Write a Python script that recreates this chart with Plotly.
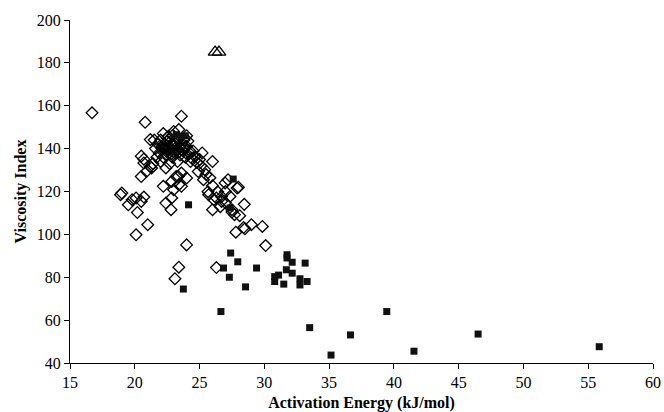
import plotly.graph_objects as go

# Open diamonds series
diam_x = [16.7, 20.8, 23.6, 26.0, 20.5, 19.0, 20.7, 21.2, 20.7, 21.3,
          18.9, 19.5, 19.8, 20.1, 20.2, 20.5, 20.7, 20.1, 21.0, 22.2,
          22.4, 22.8, 23.0, 23.6, 24.0, 23.4, 23.1, 26.3, 26.0, 25.7,
          26.3, 26.7, 27.35, 28.0, 28.45, 28.1, 27.8, 28.4, 28.5, 29.0,
          29.85, 30.1, 27.5, 27.0, 22.85, 23.4, 27.2, 27.9, 26.97,
          23.4, 22.6, 20.5, 21.2, 20.9, 24.1, 24.5, 25.2, 25.5, 23.6, 23.2,
          25.0, 25.4, 25.8, 26.0, 26.4, 26.7, 27.0, 27.5, 25.65, 26.1, 26.6,
          27.7, 25.3, 24.9, 23.9, 24.3, 24.65, 22.85, 23.35, 24.0,
          21.6, 21.8, 21.9, 22.0, 22.1, 22.2, 22.3, 22.4, 22.5, 22.5,
          22.6, 22.7, 22.8, 22.9, 22.9, 23.0, 23.1, 23.2, 23.3, 23.4,
          23.5, 23.6, 23.7, 23.8, 23.9, 24.0, 24.2, 24.3, 22.2, 22.0,
          21.7, 22.7, 23.3, 21.5, 23.0, 24.0, 22.4, 21.4,
          22.3, 22.6, 22.9, 23.2, 23.5, 22.1, 22.8, 23.1, 23.4, 22.5,
          23.8, 24.1, 24.4, 24.8, 25.1]
diam_y = [156.7, 152.3, 155.1, 134.0, 127.0, 119.3, 135.1, 144.2, 133.3, 131.0,
          118.5, 113.8, 116.2, 117.0, 110.2, 115.4, 117.4, 99.8, 104.5, 122.4,
          114.6, 111.5, 120.8, 122.4, 95.1, 84.7, 79.3, 84.5, 111.5, 118.5,
          117.0, 115.4, 117.7, 122.0, 114.0, 108.7, 101.0, 103.2, 102.6, 104.5,
          103.7, 94.8, 110.4, 120.0, 117.0, 123.2, 125.5, 121.6, 124.0,
          148.9, 145.8, 136.5, 131.7, 129.3, 143.5, 138.9, 138.0, 127.9, 128.6, 127.0,
          134.9, 130.2, 126.4, 122.7, 119.9, 117.6, 114.8, 111.5, 119.9, 116.2, 112.9,
          109.2, 125.5, 129.3, 140.5, 138.6, 136.3, 124.7, 127.0, 126.3,
          140.0, 142.0, 138.0, 144.0, 140.0, 136.0, 142.0, 139.0, 145.0, 137.0,
          141.0, 143.0, 139.0, 146.0, 136.0, 141.0, 138.0, 143.0, 140.0, 145.0,
          137.0, 142.0, 139.0, 144.0, 136.0, 141.0, 138.0, 134.0, 147.0, 134.0,
          136.0, 133.0, 134.0, 144.0, 148.0, 146.0, 131.0, 133.0,
          140.5, 139.5, 141.5, 139.0, 140.5, 141.0, 137.5, 142.5, 138.5, 143.5,
          140.0, 137.0, 135.5, 133.5, 132.0]

# Filled squares series
sq_x = [24.15, 23.75, 26.65, 26.85, 27.4, 27.3, 27.95, 28.55, 29.4, 30.8,
        30.8, 31.1, 31.5, 31.75, 31.75, 31.7, 32.15, 32.15, 32.75, 32.75,
        33.15, 33.3, 33.5, 35.15, 36.65, 39.45, 41.55, 46.5, 55.85, 27.6,
        27.35, 23.2, 23.6, 23.9]
sq_y = [113.8, 74.5, 64.0, 84.3, 91.3, 80.0, 87.2, 75.5, 84.3, 80.3,
        78.0, 81.0, 76.8, 90.5, 89.0, 83.5, 87.0, 81.9, 79.3, 76.4,
        86.6, 78.0, 56.5, 43.7, 53.1, 64.0, 45.5, 53.5, 47.6, 125.8,
        112.3, 146.5, 145.7, 146.0]

# Open triangles series
tri_x = [26.2, 26.5]
tri_y = [185.0, 185.0]

x_ticks = [15, 20, 25, 30, 35, 40, 45, 50, 55, 60]
y_ticks = [40, 60, 80, 100, 120, 140, 160, 180, 200]

fig = go.Figure()
fig.add_trace(go.Scatter(x=diam_x, y=diam_y, mode="markers",
                         marker=dict(symbol="diamond-open", size=9, color="black",
                                     line=dict(width=1.3, color="black")),
                         showlegend=False, cliponaxis=False))
fig.add_trace(go.Scatter(x=sq_x, y=sq_y, mode="markers",
                         marker=dict(symbol="square", size=7, color="#111111",
                                     line=dict(width=0)),
                         showlegend=False, cliponaxis=False))
fig.add_trace(go.Scatter(x=tri_x, y=tri_y, mode="markers",
                         marker=dict(symbol="triangle-up-open", size=12, color="black",
                                     line=dict(width=1.3, color="black")),
                         showlegend=False, cliponaxis=False))

font_family = "Liberation Serif, Times New Roman, Times, serif"
fig.update_layout(
    width=664, height=412,
    margin=dict(l=70, r=11, t=20, b=49),
    paper_bgcolor="white", plot_bgcolor="white",
    font=dict(family=font_family, size=16, color="black"),
    xaxis=dict(range=[15, 60], tickvals=x_ticks, showgrid=False, zeroline=False,
               automargin=False,
               showline=True, linecolor="black", linewidth=1.2,
               ticks="outside", ticklen=5, tickcolor="black",
               tickfont=dict(family=font_family, size=16),
               title=dict(text="<b>Activation Energy (kJ/mol)</b>", standoff=6,
                          font=dict(family=font_family, size=16))),
    yaxis=dict(range=[40, 200], tickvals=y_ticks, showgrid=False, zeroline=False,
               automargin=False,
               showline=True, linecolor="black", linewidth=1.2,
               ticks="outside", ticklen=5, tickcolor="black",
               tickfont=dict(family=font_family, size=16),
               title=dict(text="<b>Viscosity Index</b>", standoff=6,
                          font=dict(family=font_family, size=16))),
)

fig.write_html("out.html")
